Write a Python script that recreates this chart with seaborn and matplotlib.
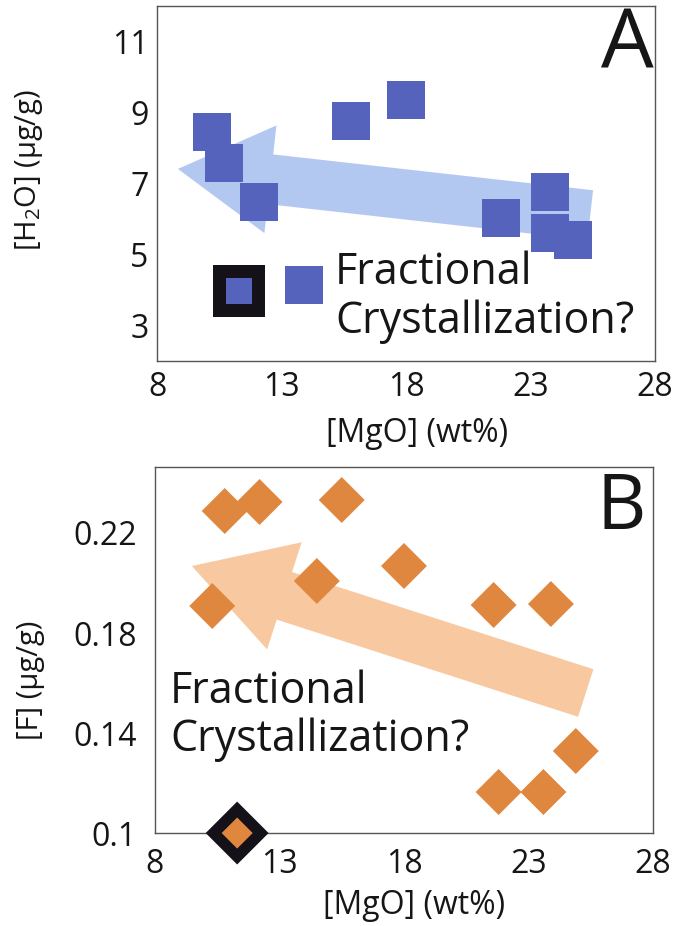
import matplotlib
matplotlib.use("Agg")
import matplotlib.pyplot as plt
import seaborn as sns

# ---- data -------------------------------------------------------------
# Panel A: water content vs MgO
mgo_a = [10.2, 10.7, 12.1, 13.9, 15.8, 18.0, 21.8, 23.8, 23.8, 24.7]
h2o_a = [8.44, 7.58, 6.48, 4.13, 8.76, 9.34, 6.03, 6.76, 5.60, 5.40]
mgo_a_sel = [11.3]
h2o_a_sel = [3.96]

# Panel B: fluorine content vs MgO
mgo_b = [10.8, 12.2, 15.5, 14.5, 10.3, 18.0, 21.6, 23.9, 24.9, 21.8, 23.6]
f_b = [0.2288, 0.2324, 0.2332, 0.2008, 0.1908, 0.2068, 0.1912, 0.1916, 0.1328, 0.1164, 0.1164]
mgo_b_sel = [11.3]
f_b_sel = [0.100]

# trend arrows (tail -> tip) in data units
arrow_a = [(25.4, 6.11), (8.84, 7.41)]
arrow_b = [(25.3, 0.156), (9.48, 0.2068)]

x_ticks = [8, 13, 18, 23, 28]
x_ticklabels = ["8", "13", "18", "23", "28"]
ya_ticks = [3, 5, 7, 9, 11]
ya_ticklabels = ["3", "5", "7", "9", "11"]
yb_ticks = [0.10, 0.14, 0.18, 0.22]
yb_ticklabels = ["0.1", "0.14", "0.18", "0.22"]

# ---- style ------------------------------------------------------------
sns.set_theme(style="white")
plt.rcParams["font.family"] = ["Open Sans", "DejaVu Sans"]
plt.rcParams["mathtext.fontset"] = "custom"
plt.rcParams["mathtext.rm"] = "Open Sans"
plt.rcParams["mathtext.it"] = "Open Sans:italic"
plt.rcParams["mathtext.bf"] = "Open Sans:bold"

blue = "#5663bd"
blue_light = "#b3c8f0"
orange = "#e0873f"
orange_light = "#f8c9a0"
black = "#141218"
text_c = "#161616"
spine_c = "#555555"

fig = plt.figure(figsize=(6.75, 9.26), dpi=100)
axA = fig.add_axes([0.2326, 0.6102, 0.7378, 0.3833])
axB = fig.add_axes([0.2296, 0.1004, 0.7378, 0.3953])


def style_axis(ax, yticks, yticklabels, ylim, ypad, xpad):
    ax.set_xlim(8, 28)
    ax.set_ylim(*ylim)
    ax.set_xticks(x_ticks)
    ax.set_xticklabels(x_ticklabels)
    ax.set_yticks(yticks)
    ax.set_yticklabels(yticklabels)
    ax.tick_params(axis="both", direction="in", length=7, width=1,
                   color=spine_c, labelsize=23, labelcolor=text_c)
    ax.tick_params(axis="y", pad=ypad)
    ax.tick_params(axis="x", pad=xpad)
    for sp in ax.spines.values():
        sp.set_color(spine_c)
        sp.set_linewidth(1.0)
        sp.set_visible(True)
    ax.grid(False)


def trend_arrow(ax, tail, tip, color, head_length, head_width, tail_width):
    ax.annotate(
        "", xy=tip, xytext=tail, zorder=1,
        arrowprops=dict(
            arrowstyle=f"simple,head_length={head_length},"
                       f"head_width={head_width},tail_width={tail_width}",
            fc=color, ec="none", mutation_scale=1, shrinkA=0, shrinkB=0,
        ),
    )


# ---- panel A ----------------------------------------------------------
trend_arrow(axA, arrow_a[0], arrow_a[1], blue_light, 67, 78, 36)
sns.scatterplot(x=mgo_a, y=h2o_a, marker="s", s=750, color=blue,
                edgecolor="none", linewidth=0, ax=axA, zorder=3)
sns.scatterplot(x=mgo_a_sel, y=h2o_a_sel, marker="s", s=1400, color=black,
                edgecolor="none", linewidth=0, ax=axA, zorder=3)
sns.scatterplot(x=mgo_a_sel, y=h2o_a_sel, marker="s", s=350, color=blue,
                edgecolor="none", linewidth=0, ax=axA, zorder=4)
style_axis(axA, ya_ticks, ya_ticklabels, (2, 12), 6, 7)
axA.set_xlabel("[MgO] (wt%)", fontsize=23, color=text_c)
axA.set_ylabel(r"[H$_\mathregular{2}$O] (µg/g)", fontsize=21, color=text_c)
axA.xaxis.set_label_coords(0.522, -0.158)
axA.yaxis.set_label_coords(-0.225, 0.538)
axA.text(0.998, 1.0, "A", transform=axA.transAxes, ha="right", va="top",
         fontsize=60, color=text_c)
axA.text(15.15, 5.1, "Fractional\nCrystallization?", ha="left", va="top",
         fontsize=31, color=text_c, linespacing=1.12, zorder=5)

# ---- panel B ----------------------------------------------------------
trend_arrow(axB, arrow_b[0], arrow_b[1], orange_light, 70, 81, 36)
sns.scatterplot(x=mgo_b, y=f_b, marker="D", s=548, color=orange,
                edgecolor="none", linewidth=0, ax=axB, zorder=3)
sns.scatterplot(x=mgo_b_sel, y=f_b_sel, marker="D", s=1026, color=black,
                edgecolor="none", linewidth=0, ax=axB, zorder=5, clip_on=False)
sns.scatterplot(x=mgo_b_sel, y=f_b_sel, marker="D", s=250, color=orange,
                edgecolor="none", linewidth=0, ax=axB, zorder=6, clip_on=False)
style_axis(axB, yb_ticks, yb_ticklabels, (0.10, 0.2464), 13, 11)
axB.set_xlabel("[MgO] (wt%)", fontsize=23, color=text_c)
axB.set_ylabel("[F] (µg/g)", fontsize=21, color=text_c)
axB.xaxis.set_label_coords(0.52, -0.152)
axB.yaxis.set_label_coords(-0.221, 0.418)
axB.text(0.985, 0.99, "B", transform=axB.transAxes, ha="right", va="top",
         fontsize=55, color=text_c)
axB.text(8.6, 0.1655, "Fractional\nCrystallization?", ha="left", va="top",
         fontsize=31, color=text_c, linespacing=1.12, zorder=5)

fig.savefig("out.png", dpi=100)
